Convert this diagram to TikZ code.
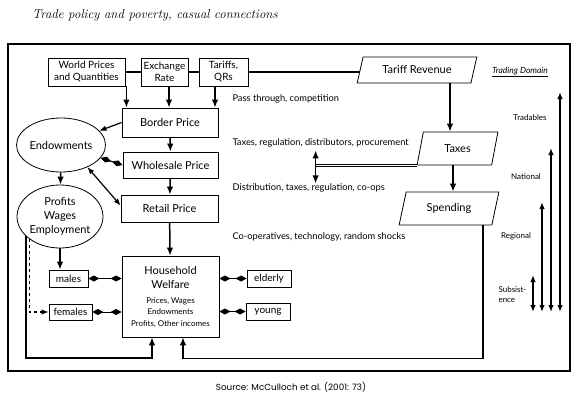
\documentclass[tikz,border=0pt]{standalone}
\usepackage{fontspec}
\usepackage{tikz}
\usetikzlibrary{arrows.meta,shapes.geometric}
\newfontfamily\diagfont{Lato}
\newfontfamily\srcfont{Poppins}
\newcommand\hwsmall[1]{{\fontsize{8}{9}\selectfont #1}}

\begin{document}
\begin{tikzpicture}[
      x=1pt, y=-1pt,
      every node/.style={font=\diagfont},
      sz8/.style={font=\diagfont\fontsize{8}{9.5}\selectfont},
      sz9/.style={font=\diagfont\fontsize{9.3}{11}\selectfont},
      sz10/.style={font=\diagfont\fontsize{10}{12}\selectfont},
      sz11/.style={font=\diagfont\fontsize{11}{14}\selectfont},
      box/.style={
            rectangle, draw, line width=0.8pt,
            inner sep=1pt, align=center
        },
      oval/.style={ellipse, draw, line width=0.8pt, inner sep=0pt, align=center},
      para/.style={
            trapezium, trapezium left angle=#1, trapezium right angle=180-#1,
            trapezium stretches=true, draw, line width=0.8pt, inner sep=0pt
        },
      note/.style={anchor=west, sz9},
      arr/.style={line width=1.5pt, -{Latex[length=8pt,width=6.5pt]}},
      twoway/.style={line width=1.2pt, {Latex[length=7pt,width=5.5pt]}-{Latex[length=7pt,width=5.5pt]}},
      dia/.style={line width=1pt, {Diamond[length=11pt,width=6pt]}-{Diamond[length=11pt,width=6pt]}}
      ]
    \useasboundingbox (0,0) rectangle (580,402);

    \node[font=\normalfont\itshape\fontsize{12.9}{14}\selectfont] (title) at (155,15) {Trade policy and poverty, casual connections};
    \draw[line width=2pt] (8,44) rectangle (570,371);

    \node[box,sz10,minimum width=77pt,minimum height=28pt] (WP) at (86.5,72) {World Prices\\and Quantities};
    \node[box,sz10,minimum width=47pt,minimum height=28pt] (ER) at (164.5,72) {Exchange\\Rate};
    \node[box,sz10,minimum width=49pt,minimum height=28pt] (TQ) at (223.5,72) {Tariffs,\\QRs};
    \node[para=65,sz11,minimum width=120pt,minimum height=26pt] (TR) at (417,70) {Tariff Revenue};
    \node[para=73,sz11,minimum width=81pt,minimum height=33pt] (TX) at (457.5,148.5) {Taxes};
    \node[para=70,sz11,minimum width=100pt,minimum height=33pt] (SP) at (449,208.5) {Spending};

    \node[box,sz11,minimum width=96pt,minimum height=29pt] (BP) at (170,122.5) {Border Price};
    \node[box,sz11,minimum width=95pt,minimum height=26pt] (WS) at (170.5,165) {Wholesale Price};
    \node[box,sz11,minimum width=97pt,minimum height=27pt] (RP) at (169.5,208.5) {Retail Price};
    \node[box,sz11,minimum width=97pt,minimum height=81pt] (HW) at (170.5,296.5)
      {Household\\[0pt]Welfare\\[1pt]\hwsmall{Prices, Wages}\\[-2.5pt]\hwsmall{Endowments}\\[-2.5pt]\hwsmall{Profits, Other incomes}};

    \node[oval,sz11,minimum width=88pt,minimum height=54pt] (EN) at (61,145) {Endowments};
    \node[oval,sz11,minimum width=86pt,minimum height=63pt] (PW) at (60,216.5) {Profits\\Wages\\Employment};

    \node[box,sz10,minimum width=39pt,minimum height=17pt] (males) at (68.5,278.5) {males};
    \node[box,sz10,minimum width=43pt,minimum height=16pt] (females) at (70.5,312) {females};
    \node[box,sz10,minimum width=44pt,minimum height=17pt] (elderly) at (269,278.5) {elderly};
    \node[box,sz10,minimum width=44pt,minimum height=17pt] (young) at (268,311.5) {young};

    \node[note] (n1) at (229,99) {Pass through, competition};
    \node[note] (n2) at (229,143) {Taxes, regulation, distributors, procurement};
    \node[note] (n3) at (229,188) {Distribution, taxes, regulation, co-ops};
    \node[note] (n4) at (229,237) {Co-operatives, technology, random shocks};

    \node[font=\diagfont\itshape\fontsize{8.5}{10}\selectfont] (dom) at (520,72) {\underline{Trading Domain}};
    \node[sz8] (tra) at (530,118) {Tradables};
    \node[sz8] (nat) at (526,177) {National};
    \node[sz8] (reg) at (516,236) {Regional};
    \node[sz8, anchor=west, align=left] (sub) at (495,294.5) {Subsist-\\ence};

    \node[font=\srcfont\fontsize{8.8}{10}\selectfont] (src) at (291,387) {Source: McCulloch et al. (2001: 73)};

    \draw[line width=2pt] (WP.east) -- (ER.west) (ER.east) -- (TQ.west) (TQ.east) -- (TQ.east -| TR.west);
    \draw[arr] ([xshift=1pt]WP.south east) -- ([xshift=1pt]WP.south east |- BP.north);
    \draw[arr] ([xshift=4.5pt]ER.south) -- ([xshift=4.5pt]ER.south |- BP.north);
    \draw[arr] ([xshift=-8.5pt]TQ.south) -- ([xshift=-8.5pt]TQ.south |- BP.north);

    \draw[arr] (BP) -- (WS);
    \draw[arr] (WS) -- (RP);
    \draw[arr] (RP) -- (HW);
    \draw[line width=1.2pt,-{Latex[length=7pt,width=5.5pt]}] (BP.west) -- (EN);
    \draw[dia] (EN) -- (WS.west);
    \draw[twoway] (EN.-40) -- ([yshift=3pt]RP.west);
    \draw[arr] (EN) -- (PW);
    \draw[arr] (PW.south) -- (PW.south |- males.north);
    \draw[line width=1.2pt,dashed,-{Latex[length=7pt,width=5.5pt]}] (PW.south west) |- (females.west);
    \draw[arr] (PW.-150) -- (PW.-150 |- 0,358) -| ([xshift=-18.5pt]HW.south);
    \draw[arr] ([xshift=34pt]SP.south) -- ++(0,133) -| ([xshift=12.5pt]HW.south);

    \draw[dia] (males.east) -- (males.east -| HW.west);
    \draw[dia] (females.east) -- (females.east -| HW.west);
    \draw[dia] (HW.east |- elderly.west) -- (elderly.west);
    \draw[dia] (HW.east |- young.west) -- (young.west);

    \draw[arr] ([xshift=33pt]TR.south) -- ([xshift=33pt]TR.south |- TX.north);
    \draw[arr] ([xshift=-4.5pt]TX.south) -- ([xshift=-4.5pt]TX.south |- SP.north);
    \draw[double, line width=0.6pt, double distance=1.2pt] (TX.bottom left corner) -- ++(-101,0) coordinate (TJ);
    \draw[arr] (TJ) -- ++(0,-15);
    \draw[arr] (TJ) -- ++(0,18);

    \foreach \x/\t in {533/275,542/202,551/148,560/92}
      \draw[twoway, line width=1.5pt] (\x,312) -- (\x,\t);
  \end{tikzpicture}
\end{document}
